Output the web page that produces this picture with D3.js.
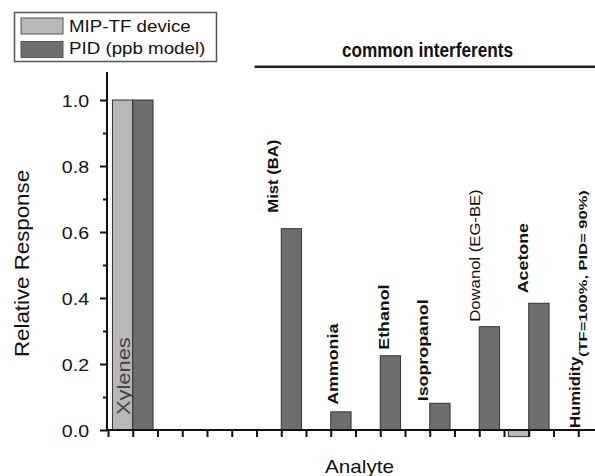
<!DOCTYPE html>
<html>
<head>
<meta charset="utf-8">
<script src="https://cdn.jsdelivr.net/npm/d3@7"></script>
<style>
  body { margin: 0; background: #fff; }
  svg { display: block; font-family: "Liberation Sans", Arial, sans-serif; }
</style>
</head>
<body>
<div id="chart"></div>
<script>
// analyte categories and their slot on the x axis
const categories = ["Xylenes", "Mist (BA)", "Ammonia", "Ethanol", "Isopropanol", "Dowanol (EG-BE)", "Acetone", "Humidity"]
const slots = [1, 4, 5, 6, 7, 8, 9, 10]
// relative response (null = no bar drawn)
const mipTF = [1.0, 0, 0, 0, 0, 0, -0.02, null]
const pid = [1.0, 0.61, 0.055, 0.225, 0.081, 0.313, 0.384, null]
const seriesNames = ["MIP-TF device", "PID (ppb model)"]
const yTicks = [0.0, 0.2, 0.4, 0.6, 0.8, 1.0]
const yMinorTicks = [0.1, 0.3, 0.5, 0.7, 0.9]
const xTicks = d3.range(0.5, 10.01, 0.5)

const width = 595, height = 476
const colors = ["#b8b8b8", "#6e6e6e"]
const stretch = 1.15

const svg = d3.select("#chart").append("svg")
  .attr("width", width)
  .attr("height", height)

const x = d3.scaleLinear().domain([0.5, 10.5]).range([108, 603])
const y = d3.scaleLinear().domain([0, 1]).range([430, 100])
const barW = 0.41 * (x(1) - x(0))

// bars
const rows = categories.map((c, i) => ({ c, slot: slots[i], vals: [mipTF[i], pid[i]] }))
rows.forEach(r => {
  r.vals.forEach((v, k) => {
    if (v === null || v === 0) return
    const x0 = k === 0 ? x(r.slot) - barW : x(r.slot)
    svg.append("rect")
      .attr("x", x0)
      .attr("width", barW)
      .attr("y", y(Math.max(v, 0)))
      .attr("height", Math.abs(y(v) - y(0)))
      .attr("fill", colors[k])
      .attr("stroke", "#333")
      .attr("stroke-width", 1)
  })
})

// y axis
const yAxis = svg.append("g")
  .attr("transform", "translate(" + (x(0.5) - 1) + ",0)")
  .call(d3.axisLeft(y).tickValues(yTicks).tickFormat(d3.format(".1f")).tickSize(7).tickPadding(11))
yAxis.select(".domain").remove()
yAxis.selectAll("line").attr("stroke", "#111").attr("stroke-width", 2)
yAxis.selectAll("text")
  .attr("font-size", 17)
  .attr("fill", "#111")
  .attr("font-family", "Liberation Sans, Arial, sans-serif")
  .attr("x", -18 / stretch)
  .attr("dy", "0.36em")
  .attr("transform", "scale(" + stretch + ",1)")

const yMinor = svg.append("g")
  .attr("transform", "translate(" + (x(0.5) - 1) + ",0)")
  .call(d3.axisLeft(y).tickValues(yMinorTicks).tickFormat("").tickSize(4))
yMinor.select(".domain").remove()
yMinor.selectAll("line").attr("stroke", "#111").attr("stroke-width", 2)

svg.append("line")
  .attr("x1", x(0.5) - 1).attr("x2", x(0.5) - 1)
  .attr("y1", y(0) + 1).attr("y2", y(1.085))
  .attr("stroke", "#111").attr("stroke-width", 2)

// x axis
const xAxis = svg.append("g")
  .attr("transform", "translate(0," + y(0) + ")")
  .call(d3.axisBottom(x).tickValues(xTicks).tickFormat("").tickSize(7).tickSizeOuter(0))
xAxis.select(".domain").remove()
xAxis.selectAll("line").attr("stroke", "#111").attr("stroke-width", 2)
svg.append("line")
  .attr("x1", x(0.5) - 2).attr("x2", width)
  .attr("y1", y(0)).attr("y2", y(0))
  .attr("stroke", "#111").attr("stroke-width", 2)

// helper for text stretched along its own direction
function label(px, py, txt, size, opts = {}) {
  const rot = opts.rotate ? " rotate(-90)" : ""
  const s = opts.stretch || stretch
  return svg.append("text")
    .attr("transform", "translate(" + px + "," + py + ")" + rot + " scale(" + s + ",1)")
    .attr("font-size", size)
    .attr("font-weight", opts.bold ? "bold" : "normal")
    .attr("text-anchor", opts.anchor || "start")
    .attr("fill", opts.fill || "#111")
    .text(txt)
}

// axis titles
label(29, 263.5, "Relative Response", 19.4, { rotate: true, anchor: "middle" })
label(359.5, 473, "Analyte", 18, { anchor: "middle" })

// analyte labels, placed from the bar they belong to
const nudge = {
  "Xylenes": [-3, null, 415],
  "Mist (BA)": [-3, -16],
  "Ammonia": [7, -7],
  "Ethanol": [9, -6],
  "Isopropanol": [-2, -2],
  "Dowanol (EG-BE)": [1, -5],
  "Acetone": [-1, -10],
  "Humidity": [2, -2]
}
rows.forEach((r, i) => {
  const n = nudge[r.c]
  const top = Math.max(r.vals[0] || 0, r.vals[1] || 0)
  const px = x(r.slot) + n[0]
  const py = n[2] !== undefined ? n[2] : y(top) + n[1]
  if (r.c === "Xylenes") {
    label(px, py, r.c, 19, { rotate: true, fill: "#444" })
  } else if (r.c === "Dowanol (EG-BE)") {
    label(px, py, r.c, 14.5, { rotate: true })
  } else if (r.c === "Humidity") {
    label(px, py, r.c, 14.5, { rotate: true, bold: true })
    label(px + 7, py - 71, "(TF=100%, PID= 90%)", 11, { rotate: true, bold: true, stretch: 1.5 })
  } else if (r.c === "Mist (BA)") {
    label(px, py, r.c, 14.5, { rotate: true, bold: true })
  } else {
    label(px, py, r.c, 15.5, { rotate: true, bold: true })
  }
})

// "common interferents" bracket
label(427.5, 56.7, "common interferents", 21, { anchor: "middle", bold: true, stretch: 0.82 })
svg.append("line")
  .attr("x1", x(3.5) - 2).attr("x2", width)
  .attr("y1", 66.7).attr("y2", 66.7)
  .attr("stroke", "#222").attr("stroke-width", 2.5)

// legend
const legend = svg.append("g")
legend.append("rect")
  .attr("x", 14.5).attr("y", 12.5)
  .attr("width", 202).attr("height", 49)
  .attr("fill", "#fff").attr("stroke", "#555").attr("stroke-width", 1.5)
seriesNames.forEach((name, k) => {
  legend.append("rect")
    .attr("x", 21).attr("y", 18 + k * 23.5)
    .attr("width", 42).attr("height", 16)
    .attr("fill", colors[k]).attr("stroke", "#555").attr("stroke-width", 1)
  label(69, 31.7 + k * 22, name, 16.3, {})
})
</script>
</body>
</html>
